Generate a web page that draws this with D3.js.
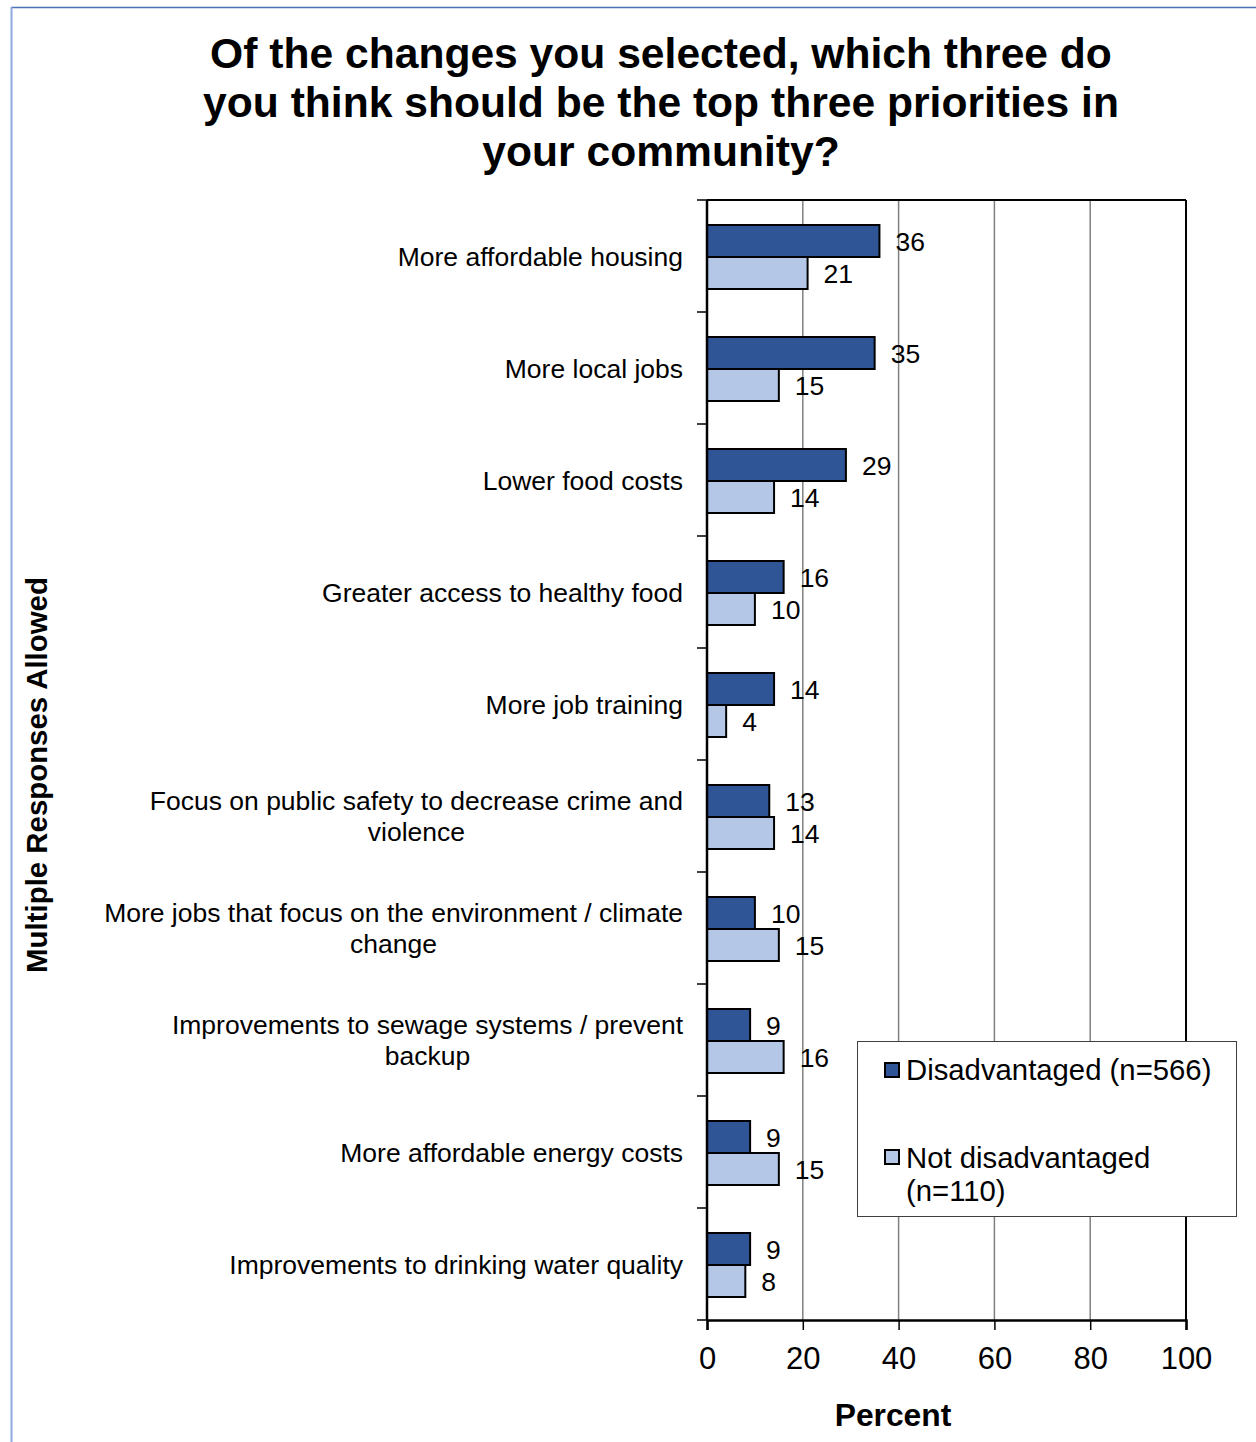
<!DOCTYPE html>
<html><head><meta charset="utf-8">
<script src="https://cdn.jsdelivr.net/npm/d3@7"></script>
<style>body{margin:0;background:#fff;} svg{display:block;font-family:Arial,"Liberation Sans",sans-serif;}</style>
</head><body>
<script>
const categories = [
  ["More affordable housing"],
  ["More local jobs"],
  ["Lower food costs"],
  ["Greater access to healthy food"],
  ["More job training"],
  ["Focus on public safety to decrease crime and", "violence"],
  ["More jobs that focus on the environment / climate", "change"],
  ["Improvements to sewage systems / prevent", "backup"],
  ["More affordable energy costs"],
  ["Improvements to drinking water quality"]
];
const disadvantaged = [36, 35, 29, 16, 14, 13, 10, 9, 9, 9];
const notDisadvantaged = [21, 15, 14, 10, 4, 14, 15, 16, 15, 8];
const seriesNames = ["Disadvantaged (n=566)", ["Not disadvantaged", "(n=110)"]];
const xTicks = [0, 20, 40, 60, 80, 100];
const titleLines = ["Of the changes you selected, which three do", "you think should be the top three priorities in", "your community?"];

const W = 1256, H = 1442;
const colors = ["#2F5597", "#B4C7E7"];
const svg = d3.select("body").append("svg").attr("width", W).attr("height", H);

// outer frame
svg.append("line").attr("x1", 11).attr("x2", W).attr("y1", 7.5).attr("y2", 7.5).attr("stroke", "#4a72b4").attr("stroke-width", 1.5);
svg.append("line").attr("x1", 11.5).attr("x2", 11.5).attr("y1", 7).attr("y2", H).attr("stroke", "#8eaadc").attr("stroke-width", 2);

const L = 707, R = 1186, T = 200, B = 1320;
const x = d3.scaleLinear().domain([0, 100]).range([L, R]);
const idx = categories.map((d, i) => i);
const y = d3.scaleBand().domain(idx).range([T, B]);
const barH = 32, off = 25;

// title
svg.append("g").selectAll("text").data(titleLines).join("text")
  .attr("x", 661).attr("y", (d, i) => 68 + i * 49)
  .attr("text-anchor", "middle").attr("font-size", 42.6).attr("font-weight", "bold").text(d => d);

// gridlines
svg.append("g").selectAll("line").data(xTicks.filter(t => t > 0 && t < 100)).join("line")
  .attr("x1", d => x(d)).attr("x2", d => x(d)).attr("y1", T).attr("y2", B)
  .attr("stroke", "#808080").attr("stroke-width", 1.5);

// bars
const g = svg.append("g");
g.selectAll("rect.d").data(disadvantaged).join("rect").attr("class", "d")
  .attr("x", x(0)).attr("y", (d, i) => y(i) + off).attr("width", d => x(d) - x(0)).attr("height", barH)
  .attr("fill", colors[0]).attr("stroke", "#000").attr("stroke-width", 2);
g.selectAll("rect.n").data(notDisadvantaged).join("rect").attr("class", "n")
  .attr("x", x(0)).attr("y", (d, i) => y(i) + off + barH).attr("width", d => x(d) - x(0)).attr("height", barH)
  .attr("fill", colors[1]).attr("stroke", "#000").attr("stroke-width", 2);

// value labels
g.selectAll("text.dl").data(disadvantaged).join("text").attr("class", "dl")
  .attr("x", d => x(d) + 16).attr("y", (d, i) => y(i) + off + barH / 2 + 9.5)
  .attr("font-size", 26.5).text(d => d);
g.selectAll("text.nl").data(notDisadvantaged).join("text").attr("class", "nl")
  .attr("x", d => x(d) + 16).attr("y", (d, i) => y(i) + off + barH * 1.5 + 9.5)
  .attr("font-size", 26.5).text(d => d);

// plot frame top/right
svg.append("line").attr("x1", L).attr("x2", R).attr("y1", T).attr("y2", T).attr("stroke", "#000").attr("stroke-width", 2);
svg.append("line").attr("x1", R).attr("x2", R).attr("y1", T).attr("y2", B).attr("stroke", "#000").attr("stroke-width", 2);

// x axis
const xAxis = svg.append("g").attr("transform", `translate(0,${B})`)
  .call(d3.axisBottom(x).tickValues(xTicks).tickSize(10).tickPadding(17));
xAxis.select(".domain").attr("stroke", "#000").attr("stroke-width", 2.5);
xAxis.selectAll(".tick line").attr("stroke", "#000").attr("stroke-width", 1.5);
xAxis.selectAll("text").attr("font-size", 31).attr("fill", "#000").attr("font-family", "Arial, 'Liberation Sans', sans-serif");

// y axis (ticks at band boundaries)
const yTickPos = d3.range(categories.length + 1).map(i => T + i * y.step());
svg.append("line").attr("x1", L).attr("x2", L).attr("y1", T).attr("y2", B).attr("stroke", "#000").attr("stroke-width", 2.5);
svg.append("g").selectAll("line").data(yTickPos).join("line")
  .attr("x1", L - 10).attr("x2", L).attr("y1", d => d).attr("y2", d => d)
  .attr("stroke", "#000").attr("stroke-width", 1.5);

// category labels
const FS = 26.5;
const cl = svg.append("g");
categories.forEach((lines, i) => {
  const cy = y(i) + y.bandwidth() / 2;
  const lh = 31;
  const t = cl.append("text").attr("font-size", FS).attr("text-anchor", "middle");
  const widths = lines.map(s => { const tmp = cl.append("text").attr("font-size", FS).text(s); const w = tmp.node().getComputedTextLength(); tmp.remove(); return w; });
  const maxW = d3.max(widths);
  const cx = 683 - maxW / 2;
  lines.forEach((s, j) => {
    t.append("tspan").attr("x", cx).attr("y", cy + (j - (lines.length - 1) / 2) * lh + 9.5).text(s);
  });
});

// axis titles
svg.append("text").attr("x", 893).attr("y", 1426).attr("text-anchor", "middle")
  .attr("font-size", 31.8).attr("font-weight", "bold").text("Percent");
svg.append("text").attr("transform", "translate(47,775) rotate(-90)").attr("text-anchor", "middle")
  .attr("font-size", 29.4).attr("font-weight", "bold").text("Multiple Responses Allowed");

// legend
const LFS = 29.3;
const lg = svg.append("g");
lg.append("rect").attr("x", 857.5).attr("y", 1041.5).attr("width", 379).attr("height", 175)
  .attr("fill", "#fff").attr("stroke", "#404040").attr("stroke-width", 1);
lg.append("rect").attr("x", 885).attr("y", 1063).attr("width", 14).attr("height", 14)
  .attr("fill", colors[0]).attr("stroke", "#000").attr("stroke-width", 2);
lg.append("text").attr("x", 906).attr("y", 1079.5).attr("font-size", LFS).text(seriesNames[0]);
lg.append("rect").attr("x", 885).attr("y", 1150).attr("width", 14).attr("height", 14)
  .attr("fill", colors[1]).attr("stroke", "#000").attr("stroke-width", 2);
lg.append("text").attr("font-size", LFS).selectAll("tspan").data(seriesNames[1]).join("tspan")
  .attr("x", 906).attr("y", (d, i) => 1167.5 + i * 33).text(d => d);
</script>
</body></html>
